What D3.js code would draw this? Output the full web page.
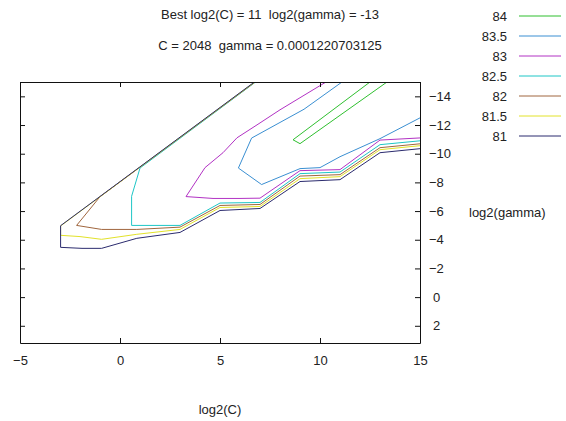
<!DOCTYPE html>
<html>
<head>
<meta charset="utf-8">
<script src="https://cdn.jsdelivr.net/npm/d3@7"></script>
<style>
  body { margin: 0; background: #fff; }
  svg { display: block; font-family: "Liberation Sans", Arial, sans-serif; }
</style>
</head>
<body>
<div id="chart-container"></div>
<script>
const width = 566;
const height = 421;

// grid search result, contour levels of cross-validation accuracy
const titleLines = ["Best log2(C) = 11  log2(gamma) = -13", "C = 2048  gamma = 0.0001220703125"];
const levels = ["84", "83.5", "83", "82.5", "82", "81.5", "81"];
const xTicks = [-5, 0, 5, 10, 15];
const yTicks = [-14, -12, -10, -8, -6, -4, -2, 0, 2];

// each contour as [log2(C), log2(gamma)] points
const c84 = [[12.5, -15], [8.65, -10.97], [9, -10.7], [13.35, -15]];
const c835 = [[11.1, -15], [9.2, -13.1], [6.58, -11.09], [5.92, -9.0], [7.08, -7.85],
  [9, -8.96], [10, -9.03], [11, -9.79], [13, -11.05], [15, -12.5]];
const c83 = [[10.3, -15], [8, -13.06], [6.85, -12.01], [5.85, -11.11], [5.15, -10.07],
  [4.25, -9.03], [3.3, -7.01], [4.65, -6.88], [6, -6.88], [7, -6.9], [9, -8.82],
  [11, -8.89], [13, -10.95], [15, -11.1]];
const c825 = [[6.78, -15], [1, -9.0], [0.58, -7.03], [0.58, -5.0], [3, -5.0], [5, -6.56],
  [7, -6.6], [9, -8.61], [11, -8.72], [13, -10.63], [15, -10.9]];
const c82 = [[6.76, -15], [-1, -7.0], [-2.17, -5.0], [-0.92, -4.72], [0.84, -4.72],
  [3, -4.88], [5, -6.39], [7, -6.46], [9, -8.44], [11, -8.54], [13, -10.42], [15, -10.69]];
const c815 = [[6.74, -15], [-2.97, -4.96], [-2.97, -4.31], [-2, -4.22], [-0.92, -4.03],
  [0.84, -4.38], [3, -4.72], [5, -6.25], [7, -6.32], [9, -8.26], [11, -8.4],
  [13, -10.28], [15, -10.56]];
const c81 = [[6.72, -15], [-2.97, -4.98], [-2.97, -3.47], [-1.9, -3.4], [-0.92, -3.4],
  [0.84, -4.1], [3, -4.51], [5, -6.04], [7, -6.18], [9, -8.06], [11, -8.19],
  [13, -10.07], [15, -10.35]];

const contours = [c84, c835, c83, c825, c82, c815, c81];
const colors = ["#2fbf2f", "#3a8fd2", "#b232c4", "#1ec6c6", "#a0663e", "#e2e22a", "#2b2b6e"];

const plot = { left: 20, right: 420, top: 82, bottom: 343 };
const fontSize = 13;

const svg = d3.select("#chart-container")
  .append("svg")
  .attr("width", width)
  .attr("height", height);

const x = d3.scaleLinear().domain([-5, 15]).range([plot.left, plot.right]);
const y = d3.scaleLinear().domain([-15, 3.2]).range([plot.top, plot.bottom]);

svg.append("defs").append("clipPath").attr("id", "plot-clip")
  .append("rect")
  .attr("x", plot.left).attr("y", plot.top)
  .attr("width", plot.right - plot.left).attr("height", plot.bottom - plot.top);

const line = d3.line().x((d) => x(d[0])).y((d) => y(d[1]));

// draw lowest level last so the shared diagonal reads dark
svg.append("g")
  .attr("clip-path", "url(#plot-clip)")
  .selectAll("path")
  .data(contours.map((c, i) => ({ pts: c, color: colors[i] })))
  .join("path")
  .attr("d", (d) => line(d.pts))
  .attr("fill", "none")
  .attr("stroke", (d) => d.color)
  .attr("stroke-width", 1);

// axes, ticks pointing inward
const bottomAxis = svg.append("g")
  .attr("transform", `translate(0,${plot.bottom})`)
  .call(d3.axisBottom(x).tickValues(xTicks).tickSizeInner(-5).tickSizeOuter(0).tickPadding(13));
const topAxis = svg.append("g")
  .attr("transform", `translate(0,${plot.top})`)
  .call(d3.axisTop(x).tickValues(xTicks).tickSizeInner(-5).tickSizeOuter(0).tickFormat(""));
const leftAxis = svg.append("g")
  .attr("transform", `translate(${plot.left},0)`)
  .call(d3.axisLeft(y).tickValues(yTicks).tickSizeInner(-5).tickSizeOuter(0).tickFormat(""));
const rightAxis = svg.append("g")
  .attr("transform", `translate(${plot.right},0)`)
  .call(d3.axisRight(y).tickValues(yTicks).tickSizeInner(-5).tickSizeOuter(0).tickPadding(9));

[bottomAxis, topAxis, leftAxis, rightAxis].forEach((g) => {
  g.select(".domain").attr("stroke", "#111");
  g.selectAll(".tick line").attr("stroke", "#111");
  g.selectAll("text")
    .attr("font-family", "Liberation Sans, Arial, sans-serif")
    .attr("font-size", fontSize)
    .attr("fill", "#222");
});
rightAxis.selectAll(".tick text").attr("dx", (d) => (d >= 0 ? 4 : 0));

// titles
svg.selectAll(".title")
  .data(titleLines)
  .join("text")
  .attr("class", "title")
  .attr("x", 270)
  .attr("y", (d, i) => 19 + i * 31)
  .attr("text-anchor", "middle")
  .attr("font-size", fontSize)
  .attr("fill", "#222")
  .style("white-space", "pre")
  .text((d) => d);

svg.append("text")
  .attr("x", 220)
  .attr("y", 414)
  .attr("text-anchor", "middle")
  .attr("font-size", fontSize)
  .attr("fill", "#222")
  .text("log2(C)");

svg.append("text")
  .attr("x", 469)
  .attr("y", 217)
  .attr("font-size", fontSize)
  .attr("fill", "#222")
  .text("log2(gamma)");

// legend
const legend = svg.append("g");
levels.forEach((lev, i) => {
  const g = legend.append("g").attr("transform", `translate(0,${16 + i * 20})`);
  g.append("text")
    .attr("x", 507)
    .attr("y", 5)
    .attr("text-anchor", "end")
    .attr("font-size", fontSize)
    .attr("fill", "#222")
    .text(lev);
  g.append("line")
    .attr("x1", 519).attr("x2", 561)
    .attr("stroke", colors[i])
    .attr("stroke-width", 1);
});
</script>
</body>
</html>
